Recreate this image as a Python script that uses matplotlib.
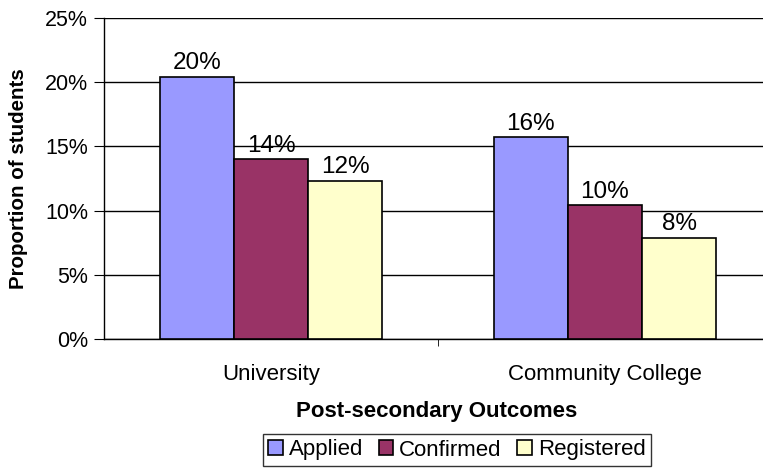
import matplotlib.pyplot as plt
import numpy as np

plt.rcParams['font.family'] = ['Liberation Sans', 'DejaVu Sans']

categories = ["University", "Community College"]
series = ["Applied", "Confirmed", "Registered"]
applied = [20.4, 15.7]
confirmed = [14.0, 10.4]
registered = [12.3, 7.9]
value_labels = [["20%", "16%"], ["14%", "10%"], ["12%", "8%"]]
colors = ["#9999FF", "#993366", "#FFFFCC"]

fig = plt.figure(figsize=(7.63, 4.68), dpi=100)
ax = fig.add_axes([104 / 763, 1 - 339 / 468, (763 - 104) / 763, (339 - 18) / 468])

x = np.arange(len(categories))
width = 0.222
for i, (vals, name) in enumerate(zip([applied, confirmed, registered], series)):
    pos = x + (i - 1) * width
    bars = ax.bar(pos, vals, width, color=colors[i], edgecolor="black", linewidth=1.2,
                  label=name, zorder=3)
    for b, lab in zip(bars, value_labels[i]):
        ax.annotate(lab, (b.get_x() + b.get_width() / 2, b.get_height()),
                    xytext=(0, 5.5), textcoords="offset points",
                    ha="center", va="baseline", fontsize=17.5)

ax.set_ylim(0, 25)
ax.set_xlim(-0.5, 0.5 + (763 - 438) / 334)
ax.set_yticks(np.arange(0, 26, 5))
ax.set_yticklabels([f"{v}%" for v in range(0, 26, 5)], fontsize=15.5)
ax.yaxis.grid(True, color="black", linewidth=1.0, zorder=0)
ax.set_axisbelow(True)

ax.set_xticks(x)
ax.set_xticklabels(categories, fontsize=16)
ax.tick_params(axis="x", which="major", length=0, pad=18)
ax.set_xticks([0.5], minor=True)
ax.tick_params(axis="x", which="minor", length=5, color="black")
ax.tick_params(axis="y", length=7, color="black", pad=4.5)

for s in ["top", "right"]:
    ax.spines[s].set_visible(False)
ax.spines["left"].set_linewidth(1.0)
ax.spines["bottom"].set_linewidth(1.0)

ax.set_ylabel("Proportion of students", fontsize=14.8, fontweight="bold")
ax.yaxis.set_label_coords(-(104 - 28) / 659, 0.5)
fig.text(437 / 763, 1 - 412 / 468, "Post-secondary Outcomes", ha="center", va="center",
         fontsize=16, fontweight="bold")

leg = fig.legend(loc="center", bbox_to_anchor=(457 / 763, 1 - 450 / 468), ncol=3,
                 fontsize=16, frameon=True, fancybox=False, edgecolor="black",
                 handlelength=0.65, handleheight=0.65, handletextpad=0.27,
                 columnspacing=0.7, borderpad=0.25, borderaxespad=0)
leg.get_frame().set_linewidth(1.0)

fig.savefig("out.png", dpi=100)
